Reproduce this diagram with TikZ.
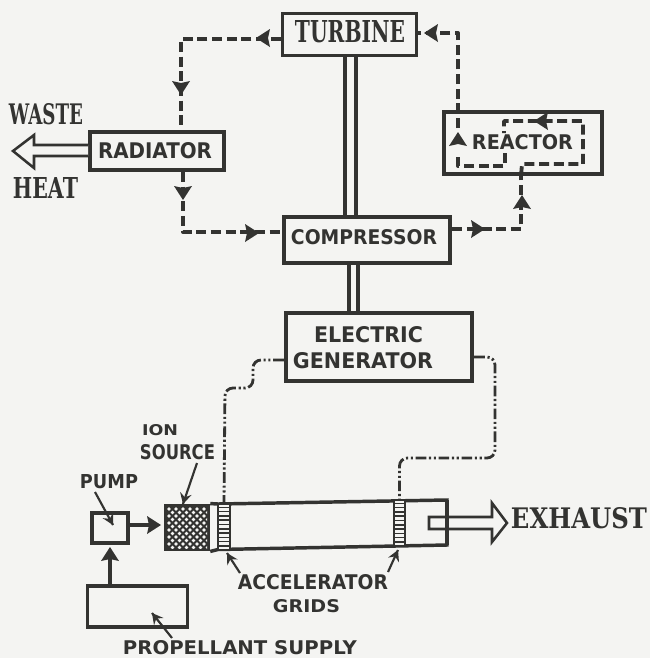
\documentclass[tikz,border=0pt]{standalone}
\usepackage{fontspec}
\setmainfont{DejaVu Sans}
\newfontfamily\slabfont[BoldFont=* Bold]{DejaVu Serif}
\newfontfamily\handfont[BoldFont=* Bold]{DejaVu Sans}
\definecolor{ink}{HTML}{333331}
\definecolor{paper}{HTML}{F4F4F2}
\usetikzlibrary{calc}
\newdimen\pxu \pxu=0.75pt
\newcommand{\fitslab}[3]{\resizebox{#1\pxu}{#2\pxu}{\slabfont\bfseries #3}}
\newcommand{\fithand}[3]{\resizebox{#1\pxu}{#2\pxu}{\handfont\bfseries #3}}
\tikzset{
  x=0.75pt,y=-0.75pt,
  blockbox/.style={draw=ink,line width=2.8pt,fill=paper,inner sep=0pt,rectangle},
  lab/.style={inner sep=0pt,text=ink},
  shaft/.style={draw=ink,line width=2.9pt},
  flow/.style={draw=ink,line width=2.9pt,dash pattern=on 7.5pt off 3.5pt,line join=round},
  power/.style={draw=ink,line width=2.1pt,dash pattern=on 8pt off 2pt on 1.6pt off 2pt on 1.6pt off 2pt,rounded corners=6pt},
  pointer/.style={draw=ink,line width=1.6pt},
  solidarrow/.style={draw=ink,line width=3.4pt},
  open/.style={draw=ink,line width=1.9pt,fill=paper,line join=miter},
  head/.pic={\fill[ink] (8,0) -- (-6,-9) -- (-4,0) -- (-6,9) -- cycle;},
  barb/.pic={\fill[ink] (0,0) -- (-11,-6) -- (-7,0) -- (-11,6) -- cycle;}
}
\begin{document}
\begin{tikzpicture}
\useasboundingbox (0,0) rectangle (650,658);
\fill[paper] (0,0) rectangle (650,658);

% shafts (under the boxes)
\coordinate (sa1) at (345,40); \coordinate (sa2) at (356,40);
\coordinate (sb1) at (349,250); \coordinate (sb2) at (358,250);

% boxes
\node[blockbox,minimum width=100.5pt,minimum height=31.5pt] (turbine) at (349.5,34.5) {};
\node[blockbox,minimum width=100.5pt,minimum height=28.5pt] (radiator) at (157,151) {};
\node[blockbox,minimum width=125pt,minimum height=34.5pt] (compressor) at (367,240) {};
\node[blockbox,minimum width=119pt,minimum height=47pt] (reactor) at (523,143) {};
\node[blockbox,minimum width=140pt,minimum height=51pt] (generator) at (379,347) {};
\node[blockbox,minimum width=27pt,minimum height=23pt] (pump) at (110,528) {};
\node[blockbox,minimum width=75pt,minimum height=31pt] (supply) at (137.5,606.5) {};

\draw[shaft] (sa1 |- turbine.south) -- (sa1 |- compressor.north);
\draw[shaft] (sa2 |- turbine.south) -- (sa2 |- compressor.north);
\draw[shaft] (sb1 |- compressor.south) -- (sb1 |- generator.north);
\draw[shaft] (sb2 |- compressor.south) -- (sb2 |- generator.north);

% coolant loop
\coordinate (c1) at (181,39);
\coordinate (c2) at (183,232);
\coordinate (c3) at (521,229);
\coordinate (c4) at (458,33);
\draw[flow] (turbine.west |- c1) -- (c1) -- (c1 |- radiator.north);
\draw[flow] (c2 |- radiator.south) -- (c2) -- (c2 -| compressor.west);
\draw[flow] (c3 -| compressor.east) -- (c3) -- (c3 |- reactor.south);
\draw[flow] (c3 |- reactor.south) -- (522,164) -- (583,164) -- (583,121) -- (504,121) -- (504,133);
\draw[flow] (505,153) -- (505,166) -- (458,166) -- (458,154);
\draw[flow] (458,128) -- (c4) -- (c4 -| turbine.east);

\pic[rotate=180] at (264,38) {head};
\pic[rotate=-90] at (181,87) {head};
\pic[rotate=-90] at (183,192) {head};
\pic at (251,233) {head};
\pic at (477,229) {head};
\pic[rotate=90] at (522,203) {head};
\pic[rotate=90] at (458,140) {head};
\pic[rotate=180] at (542,121) {head};
\pic[rotate=180] at (432,33) {head};

% waste heat arrow
\coordinate (w1) at (0,145); \coordinate (w2) at (0,156);
\draw[open] (radiator.west |- w1) -- (34,145) -- (34,135) -- (13,151) -- (34,168) -- (34,156) -- (radiator.west |- w2);

% thruster
\node[draw=ink,line width=1.9pt,fill=ink,inner sep=0pt,minimum width=33pt,minimum height=34pt] (ion) at (187,527.5) {};
\begin{scope}
\clip (167,507) rectangle (207,548.5);
\foreach \i in {0,...,6}{\foreach \j in {0,...,6}{
  \fill[paper] ({169+\i*7},{509+\j*7}) circle (1.9);
  \fill[paper] ({172.5+\i*7},{512.5+\j*7}) circle (1.9);
}}
\end{scope}
\coordinate (t1) at (218,504);
\coordinate (t2) at (447,500);
\coordinate (t3) at (447,545);
\coordinate (t4) at (218,549.5);
\draw[draw=ink,line width=2.6pt,line join=miter] (ion.north east) -- (t1) -- (t2) -- (t3) -- (t4) -- (ion.south east);
\node[draw=ink,line width=1.6pt,fill=paper,inner sep=0pt,minimum width=8.5pt,minimum height=34pt] (gridA) at (224,527) {};
\node[draw=ink,line width=1.6pt,fill=paper,inner sep=0pt,minimum width=8pt,minimum height=34pt] (gridB) at (399.5,523) {};
\foreach \k in {0,...,9}{
  \draw[ink,line width=1.1pt] ($(gridA.north west)+(0,{4+\k*4.3})$) -- ($(gridA.north east)+(0,{4+\k*4.3})$);
  \draw[ink,line width=1.1pt] ($(gridB.north west)+(0,{4+\k*4.3})$) -- ($(gridB.north east)+(0,{4+\k*4.3})$);
}

% exhaust arrow
\draw[open,fill=paper] (429,517) -- (492,517) -- (492,503) -- (507,523) -- (492,542) -- (492,529) -- (429,529) -- cycle;
\draw[ink,line width=2.6pt] (t2) -- (t3);

% power lines
\coordinate (p1) at (253,360);
\coordinate (p2) at (253,388);
\coordinate (p3) at (495,357);
\coordinate (p4) at (495,458);
\draw[power] (generator.west |- p1) -- (p1) -- (p2) -- (225,388) -- (gridA.north);
\draw[power] (generator.east |- p3) -- (p3) -- (p4) -- (gridB.north |- p4) -- (gridB.north);

% feed arrows
\coordinate (f1) at (132,525);
\draw[solidarrow] (pump.east |- f1) -- (150,525);
\pic at (153,525) {head};
\draw[solidarrow] (supply.north -| pump.south) -- (110,558);
\pic[rotate=90] at (110,555) {head};

% texts
\node[lab] (twaste) at (46,114.5) {\fitslab{74}{21}{WASTE}};
\node[lab] (theat) at (45.5,187.5) {\fitslab{65}{21}{HEAT}};
\node[lab] (tturbine) at (350,32) {\fitslab{110}{22}{TURBINE}};
\node[lab] (texhaust) at (579,518.5) {\fitslab{136}{21}{EXHAUST}};
\node[lab] (tradiator) at (155,151) {\fithand{114}{16}{RADIATOR}};
\node[lab] (tcompressor) at (364,237.5) {\fithand{146}{15}{COMPRESSOR}};
\node[lab] (treactor) at (522.5,142.5) {\fithand{101}{15}{REACTOR}};
\node[lab] (telectric) at (368.5,335) {\fithand{109}{16}{ELECTRIC}};
\node[lab] (tgenerator) at (363,361) {\fithand{140}{16}{GENERATOR}};
\node[lab] (tion) at (160,430.5) {\fithand{36}{11}{ION}};
\node[lab] (tsource) at (177.5,452.5) {\fithand{75}{15}{SOURCE}};
\node[lab] (tpump) at (109,482) {\fithand{58}{14}{PUMP}};
\node[lab] (taccel) at (313,582.5) {\fithand{150}{15}{ACCELERATOR}};
\node[lab] (tgrids) at (306.5,606.5) {\fithand{67}{13}{GRIDS}};
\node[lab] (tprop) at (240,648) {\fithand{234}{14}{PROPELLANT SUPPLY}};

% pointers
\coordinate (q1) at (183,504); \coordinate (q2) at (113,525);
\coordinate (q3) at (227,553); \coordinate (q4) at (398,550);
\coordinate (q5) at (152,613);
\draw[pointer] (197,463) -- (q1); \pic[rotate=-105] at (q1) {barb};
\draw[pointer] (95,492) -- (q2); \pic[rotate=-62] at (q2) {barb};
\draw[pointer] (240,573) -- (q3); \pic[rotate=120] at (q3) {barb};
\draw[pointer] (388,572) -- (q4); \pic[rotate=66] at (q4) {barb};
\draw[pointer] (172,638) -- (q5); \pic[rotate=128] at (q5) {barb};
\end{tikzpicture}
\end{document}
